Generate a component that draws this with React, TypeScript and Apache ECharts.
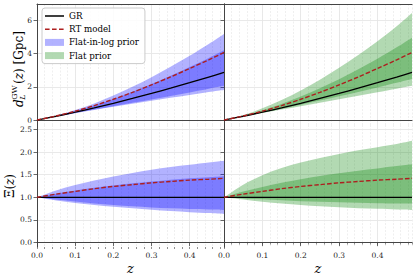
import { useEffect, useRef } from 'react';
import * as echarts from 'echarts';

// redshift grid
const zValues = [0, 0.05, 0.1, 0.15, 0.2, 0.25, 0.3, 0.35, 0.4, 0.45, 0.49];

// luminosity distance (Gpc)
const dlGR = [0, 0.228, 0.472, 0.733, 1.01, 1.302, 1.607, 1.925, 2.254, 2.594, 2.87];
const dlRT = [0, 0.244, 0.533, 0.872, 1.252, 1.667, 2.121, 2.599, 3.11, 3.63, 4.075];

// Flat-in-log prior bands on d_L
const dlLogOuterLo = [0, 0.212, 0.413, 0.608, 0.798, 0.983, 1.165, 1.338, 1.51, 1.686, 1.808];
const dlLogInnerLo = [0, 0.217, 0.427, 0.634, 0.838, 1.042, 1.245, 1.453, 1.668, 1.894, 2.066];
const dlLogInnerHi = [0, 0.246, 0.543, 0.887, 1.273, 1.706, 2.169, 2.676, 3.201, 3.748, 4.205];
const dlLogOuterHi = [0, 0.262, 0.599, 1.004, 1.475, 2.005, 2.587, 3.215, 3.877, 4.591, 5.195];

// Flat prior bands on d_L
const dlFlatOuterLo = [0, 0.217, 0.425, 0.63, 0.838, 1.042, 1.253, 1.463, 1.679, 1.894, 2.066];
const dlFlatInnerLo = [0, 0.222, 0.451, 0.685, 0.924, 1.172, 1.43, 1.694, 1.961, 2.244, 2.468];
const dlFlatInnerHi = [0, 0.258, 0.581, 0.968, 1.414, 1.914, 2.459, 3.061, 3.697, 4.384, 4.965];
const dlFlatOuterHi = [0, 0.292, 0.703, 1.209, 1.788, 2.435, 3.15, 3.927, 4.756, 5.655, 6.458];

// Xi(z)
const xiGR = [1, 1, 1, 1, 1, 1, 1, 1, 1, 1, 1];
const xiRT = [1, 1.07, 1.13, 1.19, 1.24, 1.28, 1.32, 1.35, 1.38, 1.4, 1.42];

const xiLogOuterLo = [1, 0.93, 0.875, 0.83, 0.79, 0.755, 0.725, 0.695, 0.67, 0.65, 0.63];
const xiLogInnerLo = [1, 0.95, 0.905, 0.865, 0.83, 0.8, 0.775, 0.755, 0.74, 0.73, 0.72];
const xiLogInnerHi = [1, 1.08, 1.15, 1.21, 1.26, 1.31, 1.35, 1.39, 1.42, 1.445, 1.465];
const xiLogOuterHi = [1, 1.15, 1.27, 1.37, 1.46, 1.54, 1.61, 1.67, 1.72, 1.77, 1.81];

const xiFlatOuterLo = [1, 0.95, 0.9, 0.86, 0.83, 0.8, 0.78, 0.76, 0.745, 0.73, 0.72];
const xiFlatInnerLo = [1, 0.975, 0.955, 0.935, 0.915, 0.9, 0.89, 0.88, 0.87, 0.865, 0.86];
const xiFlatInnerHi = [1, 1.13, 1.23, 1.32, 1.4, 1.47, 1.53, 1.59, 1.64, 1.69, 1.73];
const xiFlatOuterHi = [1, 1.28, 1.49, 1.65, 1.77, 1.87, 1.96, 2.04, 2.11, 2.18, 2.25];

// tick labels
const xTicks = [0, 0.1, 0.2, 0.3, 0.4];
const dlTicks = [0, 2, 4, 6];
const xiTicks = [0, 0.5, 1.0, 1.5, 2.0, 2.5];

const FONT = '"DejaVu Serif", serif';
const FRAME = '#444';
const BLUE_BAND = 'rgba(0,0,255,0.3)';
const GREEN_BAND = 'rgba(0,128,0,0.3)';
const RED = '#ad1f1f';

const pairs = (ys: number[]) => zValues.map((x, i) => [x, ys[i]]);

// Catmull-Rom spline through screen points, as SVG path commands
function spline(pts: number[][], move: boolean) {
  let d = (move ? 'M' : 'L') + pts[0][0].toFixed(2) + ',' + pts[0][1].toFixed(2);
  for (let i = 0; i < pts.length - 1; i++) {
    const p0 = pts[Math.max(0, i - 1)];
    const p1 = pts[i];
    const p2 = pts[i + 1];
    const p3 = pts[Math.min(pts.length - 1, i + 2)];
    const c1x = p1[0] + (p2[0] - p0[0]) / 6;
    const c1y = p1[1] + (p2[1] - p0[1]) / 6;
    const c2x = p2[0] - (p3[0] - p1[0]) / 6;
    const c2y = p2[1] - (p3[1] - p1[1]) / 6;
    d += 'C' + c1x.toFixed(2) + ',' + c1y.toFixed(2) + ' ' + c2x.toFixed(2) + ',' + c2y.toFixed(2) + ' ' + p2[0].toFixed(2) + ',' + p2[1].toFixed(2);
  }
  return d;
}

function bandSeries(g: number, lo: number[], hi: number[], color: string, name: string) {
  return {
    type: 'custom',
    name,
    xAxisIndex: g,
    yAxisIndex: g,
    data: [[0, 0]],
    encode: { x: 0, y: 1 },
    clip: true,
    silent: true,
    z: 2,
    itemStyle: { color },
    renderItem: (_params: any, api: any) => {
      const upper = zValues.map((x, i) => api.coord([x, hi[i]]));
      const lower = zValues.map((x, i) => api.coord([x, lo[i]])).reverse();
      const pathData = spline(upper, true) + spline(lower, false) + 'Z';
      return { type: 'path', shape: { pathData }, style: { fill: color, stroke: 'none' } };
    },
  };
}

function lineSeries(g: number, gr: number[], rt: number[]) {
  return [
    {
      type: 'line', name: 'GR', xAxisIndex: g, yAxisIndex: g, data: pairs(gr), symbol: 'none', showSymbol: false, smooth: 0.3, z: 5,
      itemStyle: { color: '#000' },
      lineStyle: { color: '#000', width: 1.3 },
    },
    {
      type: 'line', name: 'RT model', xAxisIndex: g, yAxisIndex: g, data: pairs(rt), symbol: 'none', showSymbol: false, smooth: 0.3, z: 6,
      itemStyle: { color: RED },
      lineStyle: { color: RED, width: 1.4, type: [4.5, 2] },
    },
  ];
}

const grids = [
  { left: 37, top: 4, width: 187, height: 121 },
  { left: 224, top: 4, width: 188, height: 121 },
  { left: 37, top: 125, width: 187, height: 122 },
  { left: 224, top: 125, width: 188, height: 122 },
];

const ICON_BOX = 'M0,0h0.01v0.01h-0.01z M18.99,6.99h0.01v0.01h-0.01z ';
const ICON_SOLID = 'path://' + ICON_BOX + 'M0,2.8h19v1.4h-19z';
const ICON_DASHED = 'path://' + ICON_BOX + 'M0,2.8h4.6v1.4h-4.6z M7,2.8h4.6v1.4h-4.6z M14,2.8h4.6v1.4h-4.6z';

export default function App() {
  const ref = useRef<HTMLDivElement>(null);
  useEffect(() => {
    if (!ref.current) return;
    const chart = echarts.init(ref.current, null, { renderer: 'svg' });

    const labelStyle = { fontFamily: FONT, fontSize: 7.5, color: '#222' };
    const frameOnly = {
      axisLine: { show: true, lineStyle: { color: FRAME, width: 1 } },
      axisTick: { show: false },
      axisLabel: { show: false },
      splitLine: { show: false },
    };

    const xAxes: any[] = [];
    const yAxes: any[] = [];
    for (let g = 0; g < 4; g++) {
      const bottom = g >= 2;
      xAxes.push({
        type: 'value', gridIndex: g, min: 0, max: 0.49, position: 'bottom',
        axisLine: { show: true, lineStyle: { color: FRAME, width: 1 } },
        axisTick: { show: bottom, length: 3.5, customValues: xTicks, lineStyle: { color: FRAME, width: 0.8 } },
        axisLabel: { show: bottom, customValues: xTicks, margin: 4, formatter: (v: number) => v.toFixed(1), ...labelStyle },
        splitLine: { show: true, lineStyle: { color: '#e3e3e3', width: 0.8 } },
        name: bottom ? 'z' : '',
        nameLocation: 'middle',
        nameGap: 21,
        nameTextStyle: { fontFamily: FONT, fontStyle: 'italic', fontSize: 13, color: '#000', verticalAlign: 'middle' },
      });
      yAxes.push({
        type: 'value', gridIndex: g,
        min: bottom ? -0.1 : -0.3, max: bottom ? 2.6 : 7,
        axisLine: { show: true, lineStyle: { color: FRAME, width: 1 } },
        axisTick: { show: true, length: 3.5, customValues: bottom ? xiTicks : dlTicks, lineStyle: { color: FRAME, width: 0.8 } },
        axisLabel: {
          show: g % 2 === 0, customValues: bottom ? xiTicks : dlTicks, margin: 5,
          formatter: (v: number) => (bottom ? v.toFixed(1) : String(v)), ...labelStyle,
        },
        splitLine: { show: true, lineStyle: { color: '#e3e3e3', width: 0.8 } },
      });
    }
    // minor x grid / ticks
    for (let g = 0; g < 4; g++) {
      const bottom = g >= 2;
      xAxes.push({
        type: 'value', gridIndex: g, min: 0, max: 0.49, interval: 0.02, position: 'bottom',
        axisLine: { show: false },
        axisTick: { show: bottom, length: 2, lineStyle: { color: FRAME, width: 0.6 } },
        axisLabel: { show: false },
        splitLine: { show: true, lineStyle: { color: '#e8e8e8', width: 0.7, type: [2, 1.5] } },
      });
    }
    // frame: top edge of the upper panels, right edge of the right panels
    xAxes.push({ type: 'value', gridIndex: 0, min: 0, max: 0.49, position: 'top', ...frameOnly });
    xAxes.push({ type: 'value', gridIndex: 1, min: 0, max: 0.49, position: 'top', ...frameOnly });
    yAxes.push({ type: 'value', gridIndex: 1, min: -0.3, max: 7, position: 'right', ...frameOnly });
    yAxes.push({ type: 'value', gridIndex: 3, min: -0.1, max: 2.6, position: 'right', ...frameOnly });

    const series: any[] = [
      bandSeries(0, dlLogOuterLo, dlLogOuterHi, BLUE_BAND, 'Flat-in-log prior'),
      bandSeries(0, dlLogInnerLo, dlLogInnerHi, BLUE_BAND, 'Flat-in-log prior'),
      bandSeries(1, dlFlatOuterLo, dlFlatOuterHi, GREEN_BAND, 'Flat prior'),
      bandSeries(1, dlFlatInnerLo, dlFlatInnerHi, GREEN_BAND, 'Flat prior'),
      bandSeries(2, xiLogOuterLo, xiLogOuterHi, BLUE_BAND, 'Flat-in-log prior'),
      bandSeries(2, xiLogInnerLo, xiLogInnerHi, BLUE_BAND, 'Flat-in-log prior'),
      bandSeries(3, xiFlatOuterLo, xiFlatOuterHi, GREEN_BAND, 'Flat prior'),
      bandSeries(3, xiFlatInnerLo, xiFlatInnerHi, GREEN_BAND, 'Flat prior'),
      ...lineSeries(0, dlGR, dlRT),
      ...lineSeries(1, dlGR, dlRT),
      ...lineSeries(2, xiGR, xiRT),
      ...lineSeries(3, xiGR, xiRT),
    ];

    const txt = (text: string, x: number, y: number, size: number, italic: boolean) => ({
      type: 'text', x, y,
      style: {
        text, fontFamily: FONT, fontSize: size, fontStyle: italic ? 'italic' : 'normal',
        fill: '#000', align: 'left', verticalAlign: 'middle',
      },
    });

    chart.setOption({
      animation: false,
      backgroundColor: '#fff',
      grid: grids.map((g) => ({ ...g, show: false })),
      xAxis: xAxes,
      yAxis: yAxes,
      legend: {
        left: 42, top: 8, orient: 'vertical',
        backgroundColor: 'rgba(255,255,255,0.85)',
        borderColor: '#cccccc', borderWidth: 1, borderRadius: 3,
        padding: [3, 6, 3, 3],
        itemWidth: 19, itemHeight: 7, itemGap: 3.2,
        selectedMode: false,
        textStyle: { fontFamily: FONT, fontSize: 8.7, color: '#000', lineHeight: 10 },
        data: [
          { name: 'GR', icon: ICON_SOLID, itemStyle: { color: '#000' } },
          { name: 'RT model', icon: ICON_DASHED, itemStyle: { color: RED } },
          { name: 'Flat-in-log prior', icon: 'rect', itemStyle: { color: 'rgba(0,0,255,0.3)' } },
          { name: 'Flat prior', icon: 'rect', itemStyle: { color: 'rgba(0,128,0,0.3)' } },
        ],
        z: 20,
      },
      graphic: [
        {
          type: 'group', x: 19, y: 69, rotation: Math.PI / 2,
          children: [
            txt('d', -38, 0, 12, true),
            txt('L', -30.8, 3.8, 8, true),
            txt('GW', -30.8, -4.6, 8, false),
            {
              type: 'text', x: -15, y: 0,
              style: {
                text: '{r|(}{i|z}{r|) [Gpc]}',
                align: 'left', verticalAlign: 'middle',
                rich: {
                  r: { fontFamily: FONT, fontSize: 12, fill: '#000' },
                  i: { fontFamily: FONT, fontSize: 12, fontStyle: 'italic', fill: '#000' },
                },
              },
            },
          ],
        },
        {
          type: 'group', x: 10, y: 186, rotation: Math.PI / 2,
          children: [
            {
              type: 'text', x: 0, y: 0,
              style: {
                text: '{r|Ξ(}{i|z}{r|)}',
                align: 'center', verticalAlign: 'middle',
                rich: {
                  r: { fontFamily: FONT, fontSize: 12, fill: '#000' },
                  i: { fontFamily: FONT, fontSize: 12, fontStyle: 'italic', fill: '#000' },
                },
              },
            },
          ],
        },
      ],
      series,
    });
    return () => chart.dispose();
  }, []);
  return <div ref={ref} style={{ position: 'fixed', left: 0, top: 0, width: 416, height: 280 }} />;
}
